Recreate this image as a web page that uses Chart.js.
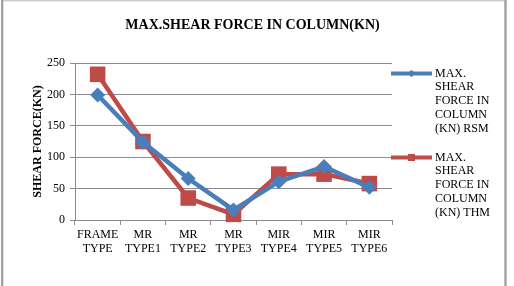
<!DOCTYPE html>
<html>
<head>
<meta charset="utf-8">
<script src="https://cdn.jsdelivr.net/npm/chart.js@4/dist/chart.umd.min.js"></script>
<style>
  html, body { margin: 0; padding: 0; background: #fff; }
  #wrap { position: relative; width: 514px; height: 286px; }
</style>
</head>
<body>
<div id="wrap"><canvas id="c" width="514" height="286"></canvas></div>
<script>
const categories = [["FRAME", "TYPE"], ["MR", "TYPE1"], ["MR", "TYPE2"], ["MR", "TYPE3"], ["MIR", "TYPE4"], ["MIR", "TYPE5"], ["MIR", "TYPE6"]];
const rsmValues = [199, 124, 66, 16, 61, 85, 52];
const thmValues = [232, 125, 35, 9, 73, 73, 58];
const seriesNames = [["MAX.", "SHEAR", "FORCE IN", "COLUMN", "(KN) RSM"], ["MAX.", "SHEAR", "FORCE IN", "COLUMN", "(KN) THM"]];
const chartTitle = 'MAX.SHEAR FORCE IN COLUMN(KN)';
const yTicks = [0, 50, 100, 150, 200, 250];

const FONT = '"Liberation Serif", serif';
const BLUE = '#4a7ebb';
const RED = '#be4b48';
Chart.defaults.font.family = FONT;
Chart.defaults.color = '#000';

const frameAndLegend = {
  id: 'frameAndLegend',
  afterDraw(chart) {
    const ctx = chart.ctx;
    ctx.save();
    // outer frame
    ctx.fillStyle = '#cfcfcf';
    ctx.fillRect(1, 0, 505, 1.5);
    ctx.fillStyle = '#a0a0a0';
    ctx.fillRect(1, 0, 2.3, 286);
    ctx.fillRect(504.3, 0, 2.4, 286);
    // title
    ctx.fillStyle = '#000';
    ctx.font = 'bold 14px ' + FONT;
    ctx.textAlign = 'center';
    ctx.textBaseline = 'middle';
    ctx.fillText(chartTitle, 252.5, 25);
    // legend
    const ds = chart.data.datasets;
    const entries = [{ y: 73.5 }, { y: 157.5 }];
    entries.forEach((e, i) => {
      const d = ds[i];
      ctx.strokeStyle = d.borderColor;
      ctx.lineWidth = 4;
      ctx.beginPath();
      ctx.moveTo(391, e.y);
      ctx.lineTo(432, e.y);
      ctx.stroke();
      ctx.fillStyle = d.borderColor;
      if (i === 0) {
        Chart.helpers.drawPoint(ctx, { pointStyle: 'rectRot', radius: 3.5, borderWidth: 0 }, 411.5, e.y);
        ctx.fill();
      } else {
        ctx.fillRect(408, e.y - 3.5, 7, 7);
      }
      ctx.fillStyle = '#000';
      ctx.font = '12px ' + FONT;
      ctx.textBaseline = 'middle';
      ctx.textAlign = 'left';
      seriesNames[i].forEach((t, k) => {
        ctx.fillText(t, 435, e.y + k * 13.75);
      });
    });
    ctx.restore();
  }
};

new Chart(document.getElementById('c'), {
  type: 'line',
  data: {
    labels: categories,
    datasets: [
      {
        label: seriesNames[0].join(' '),
        data: rsmValues,
        borderColor: BLUE,
        backgroundColor: BLUE,
        borderWidth: 4.5,
        pointStyle: 'rectRot',
        pointRadius: 7.5,
        pointBorderWidth: 0,
        tension: 0,
        clip: false
      },
      {
        label: seriesNames[1].join(' '),
        data: thmValues,
        borderColor: RED,
        backgroundColor: RED,
        borderWidth: 4.5,
        pointStyle: 'rect',
        pointRadius: 11,
        pointBorderWidth: 0,
        tension: 0,
        clip: false
      }
    ]
  },
  options: {
    responsive: false,
    animation: false,
    devicePixelRatio: 1,
    layout: { padding: { top: 63, left: 31, right: 122, bottom: 0 } },
    plugins: {
      legend: { display: false },
      tooltip: { enabled: false },
      title: { display: false }
    },
    scales: {
      x: {
        offset: true,
        afterFit(scale) { scale.height = 66; },
        grid: {
          offset: true,
          drawOnChartArea: false,
          drawTicks: true,
          tickLength: 5,
          color: '#8c8c8c'
        },
        border: { color: '#8c8c8c', width: 1 },
        ticks: {
          color: '#000',
          font: { family: FONT, size: 12, lineHeight: 1.15 },
          padding: 3,
          maxRotation: 0,
          autoSkip: false
        }
      },
      y: {
        min: 0,
        max: 250,
        afterFit(scale) { scale.width = 44; },
        afterBuildTicks(scale) { scale.ticks = yTicks.map(v => ({ value: v })); },
        grid: {
          color: '#8c8c8c',
          tickLength: 5,
          drawTicks: true
        },
        border: { color: '#8c8c8c', width: 1 },
        ticks: {
          color: '#000',
          font: { family: FONT, size: 12 },
          padding: 5
        },
        title: {
          display: true,
          text: 'SHEAR FORCE(KN)',
          color: '#000',
          font: { family: FONT, size: 12, weight: 'bold', lineHeight: 1.2 },
          padding: 0
        }
      }
    }
  },
  plugins: [frameAndLegend]
});
</script>
</body>
</html>
